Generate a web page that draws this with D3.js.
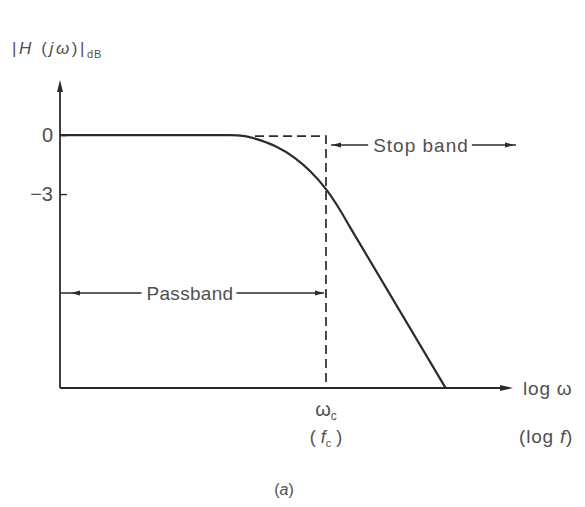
<!DOCTYPE html>
<html>
<head>
<meta charset="utf-8">
<script src="https://cdn.jsdelivr.net/npm/d3@7"></script>
<style>
  body { margin: 0; background: #fff; }
  text { font-family: "Liberation Sans", Arial, sans-serif; fill: #505050; }
</style>
</head>
<body>
<svg id="canvas" width="585" height="507"></svg>
<script>
// x = log10(w / wc), y = |H(jw)| in dB (sketch)
var curve_x = [-2.66, -0.96, -0.81, -0.71, -0.51, -0.31, -0.16, 0, 0.14, 0.24, 1.196];
var curve_y = [0, 0, -0.05, -0.18, -0.56, -1.17, -1.83, -2.75, -3.81, -4.68, -12.86];
var tick_values = [0, -3];
var tick_labels = ['0', '\u22123'];
var cutoff_x = 0;
var box_left_x = -0.71;   // where the dashed ideal response starts
var x_domain = [-2.66, 1.87];
var y_domain = [-12.86, 2.8];

var svg = d3.select('#canvas');
var ink = '#2b2b2b';

var xScale = d3.scaleLinear().domain(x_domain).range([60, 513]);
var yScale = d3.scaleLinear().domain(y_domain).range([388, 80]);

// small filled arrow head, tip at (x,y), dir = +1 right / -1 left
function arrowHead(x, y, dir) {
  svg.append('path')
    .attr('d', 'M' + x + ',' + y + ' l' + (-9 * dir) + ',-2.6 l0,5.2 Z')
    .attr('fill', ink);
}

// ************************************************************************************** //
// axes

var x0 = xScale(x_domain[0]), y0 = yScale(y_domain[0]);
svg.append('line').attr('x1', x0).attr('y1', y0).attr('x2', x0).attr('y2', yScale(y_domain[1]) + 6)
  .attr('stroke', ink).attr('stroke-width', 1.8);
svg.append('path')
  .attr('d', 'M' + x0 + ',' + yScale(y_domain[1]) + ' l-3,12 l6,0 Z').attr('fill', ink);
svg.append('line').attr('x1', x0).attr('y1', y0).attr('x2', xScale(x_domain[1]) - 4).attr('y2', y0)
  .attr('stroke', ink).attr('stroke-width', 1.8);
svg.append('path')
  .attr('d', 'M' + xScale(x_domain[1]) + ',' + y0 + ' l-13,-3 l0,6 Z').attr('fill', ink);

var yAxis = svg.append('g').attr('transform', 'translate(' + x0 + ',0)')
  .call(d3.axisRight(yScale).tickValues(tick_values).tickSize(7).tickFormat(function(){ return ''; }));
yAxis.select('.domain').remove();
yAxis.selectAll('line').attr('stroke', ink).attr('stroke-width', 1.4);

svg.selectAll('.ylab').data(tick_values).enter().append('text')
  .attr('class', 'ylab')
  .attr('x', x0 - 7).attr('y', function(d){ return yScale(d); })
  .attr('dy', '0.36em').attr('text-anchor', 'end').attr('font-size', 20)
  .text(function(d, i){ return tick_labels[i]; });

// ************************************************************************************** //
// response curve

var pts = curve_x.map(function(x, i){ return [x, curve_y[i]]; });
var line = d3.line().x(function(d){ return xScale(d[0]); }).y(function(d){ return yScale(d[1]); })
  .curve(d3.curveMonotoneX);
svg.append('path').datum(pts).attr('d', line)
  .attr('fill', 'none').attr('stroke', ink).attr('stroke-width', 2.2);

// ideal (dashed) response
var xc = xScale(cutoff_x);
svg.append('path')
  .attr('d', 'M' + xScale(box_left_x) + ',' + (yScale(0) + 1) + ' H' + xc + ' V' + y0)
  .attr('fill', 'none').attr('stroke', ink).attr('stroke-width', 1.7).attr('stroke-dasharray', '9,5');

// ************************************************************************************** //
// band annotations

function bandLabel(label, x1, x2, y, cx, size, ls) {
  var t = svg.append('text').attr('x', cx).attr('y', y).attr('dy', '0.36em')
    .attr('text-anchor', 'middle').attr('font-size', size).attr('letter-spacing', ls).text(label);
  var b = t.node().getBBox();
  svg.append('line').attr('x1', x1).attr('x2', b.x - 5).attr('y1', y).attr('y2', y)
    .attr('stroke', ink).attr('stroke-width', 1.3);
  svg.append('line').attr('x1', b.x + b.width + 3).attr('x2', x2).attr('y1', y).attr('y2', y)
    .attr('stroke', ink).attr('stroke-width', 1.3);
}

var pass_y = 293, stop_y = 145;
bandLabel('Passband', x0, xc - 2, pass_y, 190, 19, 0.3);
arrowHead(x0 + 11, pass_y, -1);
arrowHead(xc - 2, pass_y, 1);

bandLabel('Stop band', xc + 5, 516, stop_y, 421, 19, 1);
arrowHead(xc + 6, stop_y, -1);
arrowHead(514, stop_y, 1);

// ************************************************************************************** //
// labels

var ylab = svg.append('text').attr('x', 12).attr('y', 54).attr('font-size', 17).attr('letter-spacing', 2.6);
ylab.append('tspan').text('|');
ylab.append('tspan').attr('font-style', 'italic').text('H');
ylab.append('tspan').text(' (');
ylab.append('tspan').attr('font-style', 'italic').text('j\u03c9');
ylab.append('tspan').text(')|');
ylab.append('tspan').attr('font-size', 11).attr('dy', 4).attr('letter-spacing', 0.8).text('dB');

var wc = svg.append('text').attr('x', xc).attr('y', 416).attr('text-anchor', 'middle').attr('font-size', 20);
wc.append('tspan').text('\u03c9');
wc.append('tspan').attr('font-size', 12).attr('dy', 4).text('c');

var fc = svg.append('text').attr('x', xc).attr('y', 443).attr('text-anchor', 'middle').attr('font-size', 18);
fc.append('tspan').text('( ');
fc.append('tspan').attr('font-style', 'italic').text('f');
fc.append('tspan').attr('font-size', 11).attr('dy', 4).text('c');
fc.append('tspan').attr('dy', -4).text(' )');

svg.append('text').attr('x', 523).attr('y', y0).attr('dy', '0.36em')
  .attr('font-size', 19).attr('letter-spacing', 0.8).text('log \u03c9');
var lf = svg.append('text').attr('x', 519).attr('y', 443).attr('font-size', 19).attr('letter-spacing', 0.8);
lf.append('tspan').text('(log ');
lf.append('tspan').attr('font-style', 'italic').text('f');
lf.append('tspan').text(')');

var cap = svg.append('text').attr('x', 284).attr('y', 495).attr('text-anchor', 'middle').attr('font-size', 16);
cap.append('tspan').text('(');
cap.append('tspan').attr('font-style', 'italic').text('a');
cap.append('tspan').text(')');
</script>
</body>
</html>
